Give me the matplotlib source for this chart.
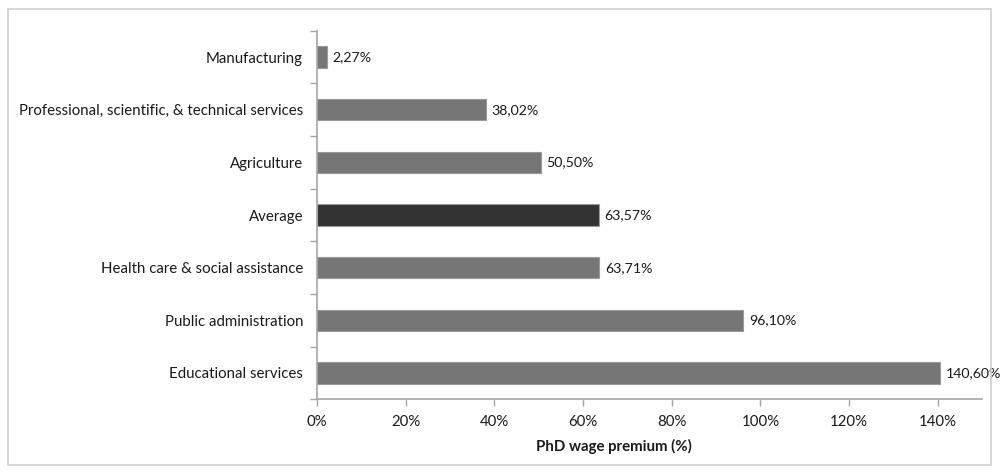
import matplotlib
matplotlib.use("Agg")
import matplotlib.pyplot as plt
from matplotlib.patches import Rectangle
from matplotlib.ticker import FixedLocator, FuncFormatter

categories = [
    "Manufacturing",
    "Professional, scientific, & technical services",
    "Agriculture",
    "Average",
    "Health care & social assistance",
    "Public administration",
    "Educational services",
]
premium = [2.27, 38.02, 50.50, 63.57, 63.71, 96.10, 140.60]
x_ticks = [0, 20, 40, 60, 80, 100, 120, 140]

plt.rcParams["font.family"] = ["Lato", "DejaVu Sans"]
FS = 10.8

fig = plt.figure(figsize=(10, 4.72), dpi=100)
ax = fig.add_axes([0.317, 1 - 399.3 / 472, 0.665, (399.3 - 30.7) / 472])

colors = ["#333333" if c == "Average" else "#767676" for c in categories]
ypos = list(range(len(categories)))
ax.barh(ypos, premium, height=0.4, color=colors, edgecolor="#9a9a9a",
        linewidth=0.8, zorder=2)

for y, v in zip(ypos, premium):
    ax.text(v + 1.3, y, f"{v:.2f}%".replace(".", ","), va="center",
            ha="left", fontsize=10.2, color="#1a1a1a")

ax.set_xlim(0, 150)
ax.set_ylim(len(categories) - 0.5, -0.5)

ax.set_yticks(ypos)
ax.set_yticklabels(categories, fontsize=FS, color="#1a1a1a")
ax.yaxis.set_minor_locator(FixedLocator([i - 0.5 for i in range(len(categories) + 1)]))
ax.tick_params(axis="y", which="major", length=0, pad=10)
ax.tick_params(axis="y", which="minor", length=5, width=1, color="#a6a6a6")

ax.xaxis.set_major_locator(FixedLocator(x_ticks))
ax.xaxis.set_major_formatter(FuncFormatter(lambda v, p: f"{v:.0f}%"))
ax.tick_params(axis="x", length=5, width=1, color="#a6a6a6", labelsize=FS,
               labelcolor="#1a1a1a", pad=6)

for side in ["top", "right"]:
    ax.spines[side].set_visible(False)
for side in ["left", "bottom"]:
    ax.spines[side].set_color("#a6a6a6")
    ax.spines[side].set_linewidth(1.2)

fig.text(0.614, 1 - 446 / 472, "PhD wage premium (%)", ha="center",
         va="center", fontsize=FS, fontweight="bold", color="#1a1a1a")

fig.patches.append(Rectangle((7.5 / 1000, 1 - 465 / 472), 983 / 1000, 456 / 472,
                             transform=fig.transFigure, fill=False,
                             edgecolor="#d0d0d0", linewidth=1.2))

fig.savefig("out.png", dpi=100, facecolor="white")
